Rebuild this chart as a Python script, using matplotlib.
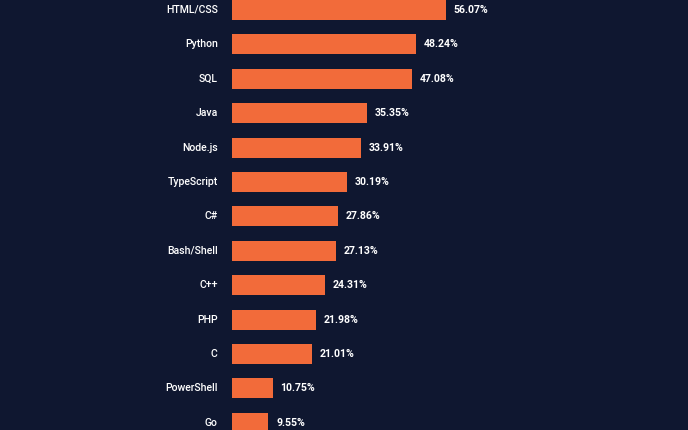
import matplotlib
matplotlib.use("Agg")
import matplotlib.pyplot as plt

# Dados
linguagens = ['HTML/CSS', 'Python', 'SQL', 'Java', 'Node.js', 'TypeScript', 'C#',
              'Bash/Shell', 'C++', 'PHP', 'C', 'PowerShell', 'Go']
percentuais = [56.07, 48.24, 47.08, 35.35, 33.91, 30.19, 27.86,
               27.13, 24.31, 21.98, 21.01, 10.75, 9.55]

fundo = '#0f1730'
laranja = '#f26b3a'

fig = plt.figure(figsize=(6.88, 4.3), dpi=100, facecolor=fundo)
ax = fig.add_axes([0, 0, 1, 1])
ax.set_facecolor(fundo)

posicoes = list(range(len(linguagens)))
ax.barh(posicoes, percentuais, height=0.58, color=laranja)

for pos, nome, valor in zip(posicoes, linguagens, percentuais):
    ax.text(-3.7, pos, nome, ha='right', va='center', color='white',
            fontsize=7.6, fontweight='medium', family='Roboto')
    ax.text(valor + 2.0, pos, f'{valor:.2f}%', ha='left', va='center',
            color='white', fontsize=7.6, fontweight='bold', family='Roboto')

ax.set_xlim(-60.7, 119.4)
ax.set_ylim(12.21, -0.29)
ax.axis('off')

fig.savefig('out.png', dpi=100, facecolor=fundo)
